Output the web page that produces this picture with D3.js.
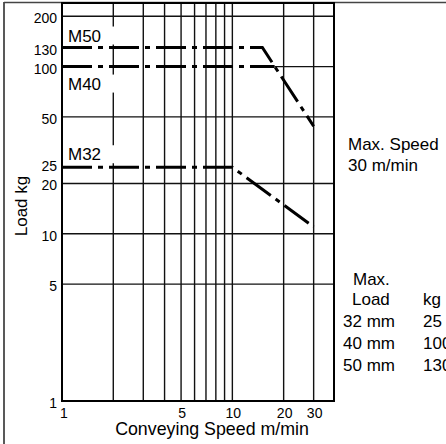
<!DOCTYPE html>
<html>
<head>
<meta charset="utf-8">
<script src="https://cdn.jsdelivr.net/npm/d3@7"></script>
<style>
  body { margin: 0; background: #fff; }
  svg { display: block; font-family: "Liberation Sans", Arial, sans-serif; }
</style>
</head>
<body>
<div class="chart"></div>
<script>
// grid + ticks
const speedGrid = [2, 3, 4, 5, 6, 7, 8, 9, 10, 20, 30];
const loadGrid = [5, 10, 20, 50, 200];
const speedTicks = [1, 5, 10, 20, 30];
const loadTicks = [1, 5, 10, 20, 25, 50, 100, 130, 200];

// curves [speed, load]
const m50 = [[1, 130], [15, 130], [30, 44]];
const m40 = [[1, 100], [17.7, 100]];
const m32 = [[1, 25], [10, 25], [30, 11]];
const curveNames = ["M50", "M40", "M32"];

// legend
const legendSizes = ["32 mm", "40 mm", "50 mm"];
const legendLoads = [25, 100, 130];

const width = 446, height = 444;
const margin = ({ top: 3, right: 112, bottom: 43, left: 62 });

var svg = d3.select(".chart").append("svg")
    .attr("width", width)
    .attr("height", height);

var x = d3.scaleLog().domain([1, 39.5]).range([margin.left, width - margin.right]);
var y = d3.scaleLog().domain([1, 240]).range([height - margin.bottom, margin.top]);

// outer frame (left + top only visible)
svg.append("line").attr("x1", 4).attr("x2", 4).attr("y1", 2).attr("y2", height)
    .attr("stroke", "#222").attr("stroke-width", 1.5);
svg.append("line").attr("x1", 4).attr("x2", width).attr("y1", 2.5).attr("y2", 2.5)
    .attr("stroke", "#444").attr("stroke-width", 1.5);

var grid = svg.append("g").attr("stroke", "#111").attr("stroke-width", 1.4);

grid.selectAll(".vg")
    .data(speedGrid)
    .join("line")
    .attr("class", "vg")
    .attr("x1", d => x(d)).attr("x2", d => x(d))
    .attr("y1", y.range()[0]).attr("y2", y.range()[1]);

grid.selectAll(".hg")
    .data(loadGrid)
    .join("line")
    .attr("class", "hg")
    .attr("x1", x.range()[0]).attr("x2", x.range()[1])
    .attr("y1", d => y(d)).attr("y2", d => y(d));

// the 100 line only shows right of where M40 ends
grid.append("line")
    .attr("x1", x(m40[1][0])).attr("x2", x.range()[1])
    .attr("y1", y(100)).attr("y2", y(100));

// plot border
svg.append("rect")
    .attr("x", x.range()[0]).attr("y", y.range()[1])
    .attr("width", x.range()[1] - x.range()[0])
    .attr("height", y.range()[0] - y.range()[1])
    .attr("fill", "none").attr("stroke", "#000").attr("stroke-width", 2);

// curve labels with white boxes behind them
var labelY = [y(130) - 6, y(100) + 23, y(25) - 7];
var lab = svg.append("g");
lab.selectAll("rect")
    .data(curveNames)
    .join("rect")
    .attr("x", x.range()[0] + 1.5)
    .attr("y", (d, i) => labelY[i] - 15)
    .attr("width", 51)
    .attr("height", 18)
    .attr("fill", "#fff");
lab.selectAll("text")
    .data(curveNames)
    .join("text")
    .attr("x", x.range()[0] + 6)
    .attr("y", (d, i) => labelY[i])
    .attr("font-size", 17)
    .text(d => d);

var line = d3.line().x(d => x(d[0])).y(d => y(d[1]));

svg.selectAll(".curve")
    .data([m50, m40, m32])
    .join("path")
    .attr("class", "curve")
    .attr("d", line)
    .attr("fill", "none")
    .attr("stroke", "#000")
    .attr("stroke-width", 3)
    .attr("stroke-dasharray", "30,6,5,6");

// y tick labels
svg.append("g").selectAll("text")
    .data(loadTicks)
    .join("text")
    .attr("x", margin.left - 5)
    .attr("y", d => y(d) + (d == 25 ? 4 : 7))
    .attr("text-anchor", "end")
    .attr("font-size", 14)
    .text(d => d);

// x tick labels
svg.append("g").selectAll("text")
    .data(speedTicks)
    .join("text")
    .attr("x", d => x(d) + (d == 1 ? 2 : 1))
    .attr("y", 418)
    .attr("text-anchor", "middle")
    .attr("font-size", 14)
    .text(d => d);

// axis titles
svg.append("text")
    .attr("x", 212).attr("y", 435)
    .attr("text-anchor", "middle")
    .attr("font-size", 17.8)
    .text("Conveying Speed m/min");

svg.append("text")
    .attr("transform", "translate(27,206) rotate(-90)")
    .attr("text-anchor", "middle")
    .attr("font-size", 17)
    .text("Load kg");

// notes on the right
var note = svg.append("g").attr("font-size", 17);
note.append("text").attr("x", 348).attr("y", 150).text("Max. Speed");
note.append("text").attr("x", 348).attr("y", 171).text("30 m/min");

note.append("text").attr("x", 353).attr("y", 285).text("Max.");
note.append("text").attr("x", 352).attr("y", 305).text("Load");
note.append("text").attr("x", 423).attr("y", 305).text("kg");

note.selectAll(".sz")
    .data(legendSizes)
    .join("text")
    .attr("class", "sz")
    .attr("x", 343)
    .attr("y", (d, i) => 327 + i * 22)
    .text(d => d);

note.selectAll(".ld")
    .data(legendLoads)
    .join("text")
    .attr("class", "ld")
    .attr("x", 423)
    .attr("y", (d, i) => 327 + i * 22)
    .text(d => d);
</script>
</body>
</html>
